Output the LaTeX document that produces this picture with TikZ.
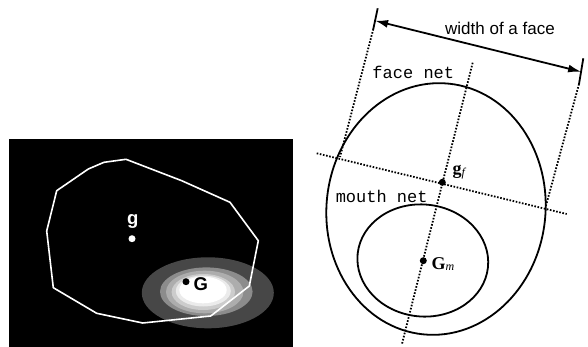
\documentclass[tikz,border=0pt]{standalone}
\usepackage{fontspec}
\setmainfont{Liberation Serif}
\setsansfont{Liberation Sans}
\setmonofont{Liberation Mono}
\usetikzlibrary{arrows.meta}
\definecolor{blobdark}{gray}{0.28}
\definecolor{blobmid}{gray}{0.55}
\definecolor{bloblight}{gray}{0.68}
\definecolor{blobpale}{gray}{0.80}
\definecolor{blobwhite}{gray}{0.92}

\begin{document}
\begin{tikzpicture}[x=1pt,y=-1pt,
  outline/.style={line width=1.8pt},
  guide/.style={line width=1.8pt,dash pattern=on 1.6pt off 1.6pt},
  dot/.style={circle,fill,inner sep=0pt,minimum size=7pt},
  netlabel/.style={font=\fontsize{17}{17}\selectfont\ttfamily,inner sep=0pt},
  symlabel/.style={font=\fontsize{18.5}{18.5}\selectfont\sffamily\bfseries,inner sep=0pt},
  veclabel/.style={font=\fontsize{18}{18}\selectfont,inner sep=0pt,anchor=west}]
  \useasboundingbox (0,0) rectangle (588,347);

  % left panel: image with contour and mouth blob
  \fill[black] (9,139) rectangle (293,347);
  \fill[blobdark] (207.8,292.8) ellipse [x radius=66,y radius=35.5];
  \fill[blobmid] (206.3,291.7) ellipse [x radius=46.3,y radius=24.3];
  \fill[bloblight] (204.7,292) ellipse [x radius=38.7,y radius=21.3];
  \fill[blobpale] (203.3,292) ellipse [x radius=31.7,y radius=18];
  \fill[blobwhite] (203.3,291) ellipse [x radius=27.5,y radius=15.5];
  \fill[white] (203,290) ellipse [x radius=23.7,y radius=13.3];
  \draw[white,line width=1.6pt,line join=round]
    (126,159.3) -- (104,162.3) -- (88.3,169) -- (56.7,190.7) -- (46.7,231)
    -- (53.3,287.7) -- (96.7,313.3) -- (142.7,323) -- (210.7,316)
    -- (249.3,286) -- (258.3,240.7) -- (230,202.3) -- (181.7,180.7) -- cycle;
  \node[dot,white] (g) at (132,238.7) {};
  \node[symlabel,white] (glabel) at (132.7,221.7) {g};
  \node[dot,black] (G) at (186,281.7) {};
  \node[symlabel,black] (Glabel) at (200.7,284.3) {G};

  % right panel: face net and mouth net
  \draw[outline,rotate around={-6:(436,209)}] (436,209) ellipse [x radius=109.5,y radius=126];
  \draw[outline,rotate around={-6:(422.8,260.5)}] (422.8,260.5) ellipse [x radius=65.5,y radius=56];

  \coordinate (axtop) at (472.7,62.7);
  \coordinate (axbot) at (401.7,345);
  \coordinate (crossL) at (316.7,153.3);
  \coordinate (crossR) at (566.7,214);
  \draw[guide] (axtop) -- (axbot);
  \draw[guide] (crossL) -- (crossR);

  \coordinate (ltickA) at (377.7,8.3);
  \coordinate (ltickB) at (373.3,29);
  \coordinate (lguide) at (340,157);
  \coordinate (rtickA) at (583.3,58.3);
  \coordinate (rtickB) at (579,84);
  \coordinate (rguide) at (545.7,206.7);
  \draw[outline] (ltickA) -- (ltickB);
  \draw[guide] (ltickB) -- (lguide);
  \draw[outline] (rtickA) -- (rtickB);
  \draw[guide] (rtickB) -- (rguide);

  \coordinate (wL) at (375.1,20.7);
  \coordinate (wR) at (581.1,71.7);
  \draw[outline,{Latex[length=13pt,width=8pt]}-{Latex[length=13pt,width=8pt]}] (wL) -- (wR);
  \node[font=\fontsize{17}{17}\selectfont\sffamily,inner sep=0pt] (width) at (500,28.3) {width of a face};

  \node[netlabel] (facenet) at (413.3,72.7) {face net};
  \node[netlabel] (mouthnet) at (381.7,196.7) {mouth net};

  \node[dot,black] (gf) at (442.3,182.3) {};
  \node[veclabel] (gflabel) at (452.5,172) {\textbf{g}\raisebox{-2.5pt}{\fontsize{12}{12}\selectfont\textit{f}}};
  \node[dot,black] (Gm) at (423.3,260.7) {};
  \node[veclabel] (Gmlabel) at (431.5,264) {\textbf{G}\raisebox{-1pt}{\fontsize{12}{12}\selectfont\textit{m}}};
\end{tikzpicture}
\end{document}
